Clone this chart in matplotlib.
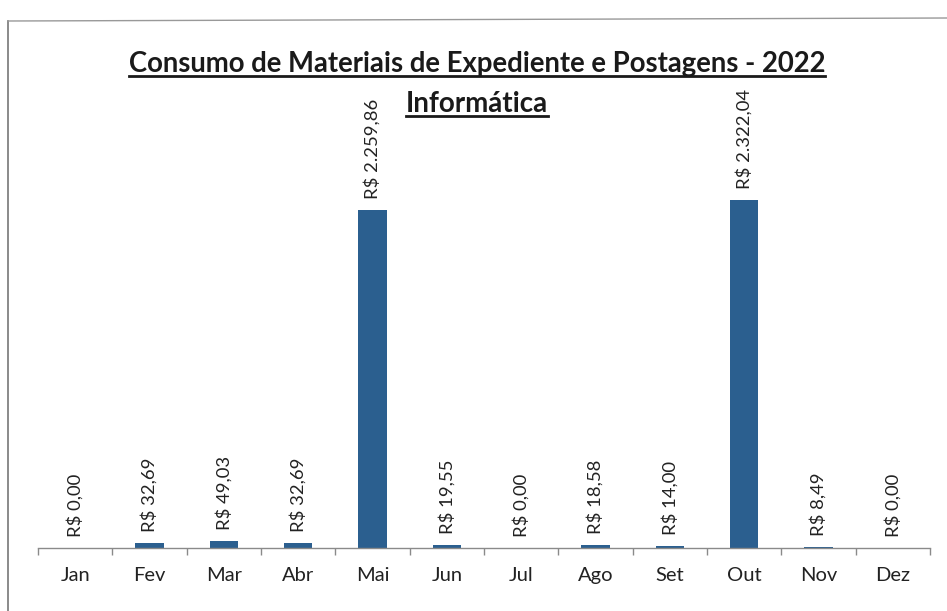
import numpy as np
import matplotlib.pyplot as plt
from matplotlib.lines import Line2D

# monthly values (R$)
meses = ['Jan', 'Fev', 'Mar', 'Abr', 'Mai', 'Jun', 'Jul', 'Ago', 'Set', 'Out', 'Nov', 'Dez']
valores = [0.00, 32.69, 49.03, 32.69, 2259.86, 19.55, 0.00, 18.58, 14.00, 2322.04, 8.49, 0.00]
titulo = 'Consumo de Materiais de Expediente e Postagens - 2022'
subtitulo = 'Informática'

plt.rcParams['font.family'] = ['Lato', 'DejaVu Sans']

def brl(v):
    s = f'{v:,.2f}'.replace(',', 'X').replace('.', ',').replace('X', '.')
    return 'R$ ' + s

fig = plt.figure(figsize=(9.47, 6.11), dpi=100)
ax = fig.add_axes([38 / 947, 1 - 548 / 611, (930 - 38) / 947, 449 / 611])

x = np.arange(len(meses))
bars = ax.bar(x, valores, width=0.38, color='#2B5F8F')

ax.set_xlim(-0.5, len(meses) - 0.5)
ax.set_ylim(0, 3000)
for s in ['top', 'right', 'left']:
    ax.spines[s].set_visible(False)
ax.spines['bottom'].set_color('#8a8a8a')
ax.spines['bottom'].set_linewidth(1.0)
ax.set_yticks([])
ax.set_xticks(x)
ax.set_xticklabels(meses, fontsize=14.5, color='#222222')
ax.tick_params(axis='x', length=0, pad=14)
ax.set_xticks(np.arange(-0.5, len(meses)), minor=True)
ax.tick_params(axis='x', which='minor', length=5, color='#8a8a8a', width=1.0)

for xi, v in zip(x, valores):
    ax.annotate(brl(v), (xi, v), xytext=(0, 8), textcoords='offset points',
                rotation=90, ha='center', va='bottom', fontsize=13.3, color='#222222')

# titles
t1 = fig.text(477 / 947, 1 - 64 / 611, titulo, ha='center', va='center',
              fontsize=19.8, fontweight='bold', color='#1a1a1a')
t2 = fig.text(477 / 947, 1 - 104 / 611, subtitulo, ha='center', va='center',
              fontsize=20, fontweight='bold', color='#1a1a1a')

fig.canvas.draw()
r = fig.canvas.get_renderer()
for t in (t1, t2):
    bb = t.get_window_extent(r).transformed(fig.transFigure.inverted())
    yline = bb.y0 + 0.002
    fig.add_artist(Line2D([bb.x0, bb.x1], [yline, yline], transform=fig.transFigure,
                          color='#1a1a1a', lw=2.0))

# page frame
fig.add_artist(Line2D([8 / 947, 8 / 947], [0, 1 - 21 / 611], transform=fig.transFigure,
                      color='#777777', lw=1.2))
fig.add_artist(Line2D([8 / 947, 1], [1 - 21 / 611, 1 - 18 / 611], transform=fig.transFigure,
                      color='#999999', lw=1.0))

fig.savefig('out.png', dpi=100)
